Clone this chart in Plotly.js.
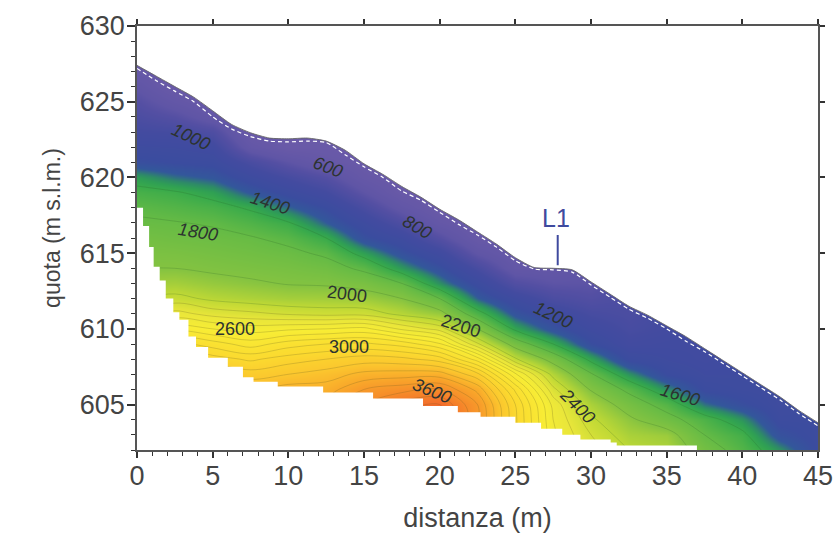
<!DOCTYPE html>
<html><head><meta charset="utf-8">
<script src="https://cdn.plot.ly/plotly-3.0.1.min.js"></script>
<style>html,body{margin:0;padding:0;background:#fff}</style>
</head><body><div id="chart" style="width:833px;height:535px"></div>
<script>
// grid coordinates
const distance = [0,2.5,5,7.5,10,12.5,15,17.5,20,22.5,25,27.5,30,32.5,35,37.5,40,42.5,45];
const elevation = [602,603,604,605,606,607,608,609,610,611,612,613,614,615,616,617,618,619,620,621,622,623,624,625,626,627,628];
const resistivity = [
[3400,3400,3400,3400,3300,3200,3000,2700,2500,2300,2200,2100,2000,1950,1900,1830,1760,1665,1515,1250,1120,1000,900,800,670,520,400],
[3500,3500,3500,3500,3450,3350,3200,2940,2660,2440,2240,2110,2000,1940,1870,1810,1720,1620,1400,1200,1100,980,800,590,420,400,400],
[3550,3550,3550,3500,3400,3250,3050,2850,2600,2360,2175,2060,1970,1910,1850,1780,1670,1530,1330,1165,1050,870,600,430,400,400,400],
[3500,3500,3500,3450,3300,3150,2980,2750,2550,2325,2140,2025,1945,1880,1815,1705,1575,1330,1130,925,600,430,400,400,400,400,400],
[3500,3500,3500,3450,3350,3200,3050,2850,2580,2285,2110,1990,1920,1845,1745,1615,1380,1160,960,720,420,400,400,400,400,400,400],
[3550,3550,3500,3450,3350,3250,3100,2900,2600,2265,2100,1980,1880,1765,1600,1365,1200,1000,800,530,420,400,400,400,400,400,400],
[3700,3700,3650,3600,3500,3330,3150,2920,2630,2265,2085,1935,1760,1530,1265,1120,920,710,520,420,400,400,400,400,400,400,400],
[3900,3900,3850,3750,3560,3350,3130,2860,2480,2165,2000,1800,1500,1285,1100,875,625,440,400,400,400,400,400,400,400,400,400],
[3900,3900,3880,3800,3600,3350,3050,2715,2360,2065,1800,1465,1265,1065,800,560,400,400,400,400,400,400,400,400,400,400,400],
[3520,3520,3520,3500,3370,3130,2750,2320,2000,1680,1360,1160,940,680,480,400,400,400,400,400,400,400,400,400,400,400,400],
[3020,3020,3020,3000,2880,2620,2220,1920,1560,1300,1100,830,600,500,500,500,500,500,500,500,500,500,500,500,500,500,500],
[2520,2520,2500,2470,2330,2160,1930,1600,1300,1100,900,720,600,500,500,500,500,500,500,500,500,500,500,500,500,500,500],
[2350,2300,2230,2130,1985,1820,1550,1240,1080,950,820,720,700,700,700,700,700,700,700,700,700,700,700,700,700,700,700],
[2200,2130,2035,1915,1755,1480,1180,1020,950,900,900,900,900,900,900,900,900,900,900,900,900,900,900,900,900,900,900],
[2150,2080,1875,1720,1465,1200,1100,1050,1000,1000,1000,1000,1000,1000,1000,1000,1000,1000,1000,1000,1000,1000,1000,1000,1000,1000,1000],
[1900,1800,1690,1400,1180,1100,1050,1050,1050,1050,1050,1050,1050,1050,1050,1050,1050,1050,1050,1050,1050,1050,1050,1050,1050,1050,1050],
[1720,1650,1480,1240,1130,1100,1100,1100,1100,1100,1100,1100,1100,1100,1100,1100,1100,1100,1100,1100,1100,1100,1100,1100,1100,1100,1100],
[1480,1280,1150,1100,1100,1100,1100,1100,1100,1100,1100,1100,1100,1100,1100,1100,1100,1100,1100,1100,1100,1100,1100,1100,1100,1100,1100],
[1180,1150,1150,1150,1150,1150,1150,1150,1150,1150,1150,1150,1150,1150,1150,1150,1150,1150,1150,1150,1150,1150,1150,1150,1150,1150,1150]
];
// ground surface
const surfaceX = [0,1.25,2.5,3.75,5,6.25,7.5,8.75,10,11.25,12.5,13.75,15,16.25,17.5,18.75,20,21.25,22.5,23.75,25,26.25,27.5,28.75,30,31.25,32.5,33.75,35,36.25,37.5,38.75,40,41.25,42.5,43.75,45];
const surfaceY = [627.4,626.7,626,625.3,624.4,623.5,622.95,622.6,622.55,622.6,622.4,621.8,620.9,620.2,619.4,618.7,617.9,617.2,616.4,615.6,614.7,614.05,614,613.9,613.1,612.3,611.5,610.9,610.2,609.5,608.7,607.9,607.1,606.3,605.5,604.6,603.8];
const surfaceOffset = [627.2,626.4,625.7,625,624,623.2,622.7,622.4,622.35,622.4,622.3,621.5,620.7,620,619.1,618.5,617.7,616.9,616.2,615.4,614.5,613.95,613.9,613.75,612.9,612.1,611.3,610.7,610,609.2,608.5,607.7,606.9,606.1,605.3,604.4,603.6];
// lower limit of the investigated section (staircase)
const baseX = [0,0.4,0.8,1.1,1.5,1.9,2.4,2.8,3.4,3.9,4.7,6,7,7.7,9.3,12.3,15.6,18.9,21.2,22.7,25,26.7,28.1,29.3,31.3,31.7,37];
const baseY = [618,616.8,615.4,614.1,613.2,612,611.1,610.6,609.5,608.8,608.1,607.5,606.8,606.5,606.2,605.8,605.4,604.9,604.5,604.2,603.8,603.4,603,602.7,602.5,602.3,602];
// contour labels
const labelText = ['600','800','1000','1200','1400','1600','1800','2000','2200','2400','2600','3000','3600'];
const labelX = [12.6,18.5,3.6,27.5,8.8,35.9,4.0,13.9,21.4,29.1,6.5,14.0,19.5];
const labelY = [620.7,616.7,622.7,610.9,618.3,605.6,616.4,612.3,610.2,604.9,610.0,608.8,605.9];
const labelAngle = [20,30,25,25,18,17,9,7,18,45,0,0,22];
const labelStyle = ['italic','italic','italic','italic','italic','italic','italic','normal','normal','italic','normal','normal','italic'];
const levelZ = [400,700,800,1000,1200,1350,1450,1520,1600,1800,2000,2200,2400,2600,3000,3200,3400,3600,3800,3900];
const levelColor = ['#6a5aa8','#5f55a6','#544fa3','#434ba0','#3b4c9f','#33589b','#2e8a68','#2f9f55','#3aab4b','#66bb45','#84c341','#c0d935','#e9e63a','#f8ed35','#fbd92f','#fbc72e','#f9a82a','#f68b2a','#f26b2b','#ee5f2c'];
const zLow = 400, zHigh = 3900;

const tickFont = {family:'"Liberation Sans",Arial,sans-serif',size:27,color:'#444'};
const yTitleFont = {family:'"Liberation Sans",Arial,sans-serif',size:23,color:'#444'};
const traces = [
 {type:'contour',x:distance,y:elevation,z:resistivity,transpose:true,zauto:false,zmin:zLow,zmax:zHigh,
  colorscale:levelZ.map((v,i)=>[(v-zLow)/(zHigh-zLow),levelColor[i]]),showscale:false,hoverinfo:'skip',
  contours:{coloring:'heatmap',start:2300,end:3800,size:100,showlabels:false},
  line:{color:'rgba(90,85,30,0.32)',width:0.7,smoothing:1}},
 {type:'contour',x:distance,y:elevation,z:resistivity,transpose:true,showscale:false,hoverinfo:'skip',
  contours:{coloring:'none',start:1600,end:2200,size:200,showlabels:false},
  line:{color:'rgba(40,90,40,0.3)',width:0.7,smoothing:1}},
 {type:'scatter',mode:'lines',x:[-1].concat(surfaceX,[46,46,-1]),y:[surfaceY[0]+0.5].concat(surfaceY,[603.2,640,640]),fill:'toself',fillcolor:'#fff',line:{width:0,shape:'spline',smoothing:0.6},hoverinfo:'skip'},
 {type:'scatter',mode:'lines',x:baseX.concat([37,-1,-1]),y:baseY.concat([601,601,baseY[0]]),fill:'toself',fillcolor:'#fff',line:{width:0,shape:'hv'},hoverinfo:'skip'},
 {type:'scatter',mode:'lines',x:surfaceX,y:surfaceOffset,line:{color:'#fff',width:1.2,dash:'4px,3px',shape:'spline',smoothing:0.6},hoverinfo:'skip'},
 {type:'scatter',mode:'lines',x:surfaceX,y:surfaceY,line:{color:'#666',width:0.9,shape:'spline',smoothing:0.6},hoverinfo:'skip'},
 {type:'scatter',mode:'lines',xaxis:'x2',yaxis:'y2',x:[27.8,27.8],y:[616.2,614.2],line:{color:'#3f4a9e',width:2},hoverinfo:'skip'}
];
const layout = {
 width:833,height:535,margin:{l:136.5,r:15,t:26,b:84.5},paper_bgcolor:'#fff',plot_bgcolor:'#fff',showlegend:false,
 xaxis:{range:[0,45],tick0:0,dtick:5,ticks:'outside',ticklen:6,tickwidth:1.5,tickcolor:'#333',linecolor:'#555',linewidth:1.5,showgrid:false,zeroline:false,ticklabelstandoff:-5,ticklabeloverflow:'allow',
  minor:{dtick:1,ticks:'outside',ticklen:4,tickwidth:1.3,tickcolor:'#333',showgrid:false},
  tickfont:tickFont,title:{text:'distanza (m)',font:tickFont,standoff:18}},
 yaxis:{range:[602,630],tick0:605,dtick:5,ticks:'outside',ticklen:8,tickwidth:1.5,tickcolor:'#333',linecolor:'#555',linewidth:1.5,showgrid:false,zeroline:false,ticklabelstandoff:-3,ticklabeloverflow:'allow',
  minor:{dtick:1,ticks:'outside',ticklen:4,tickwidth:1.3,tickcolor:'#333',showgrid:false},
  tickfont:tickFont,title:{text:'quota (m s.l.m.)',font:yTitleFont,standoff:13}},
 xaxis2:{overlaying:'x',anchor:'y2',side:'top',range:[0,45],dtick:5,tick0:0,ticks:'outside',ticklen:5,tickwidth:1.5,tickcolor:'#333',linecolor:'#555',linewidth:1.5,showticklabels:false,showgrid:false,zeroline:false},
 yaxis2:{overlaying:'y',anchor:'x2',side:'right',range:[602,630],dtick:5,tick0:605,ticks:'outside',ticklen:5,tickwidth:1.5,tickcolor:'#333',linecolor:'#555',linewidth:1.5,showticklabels:false,showgrid:false,zeroline:false},
 annotations: labelText.map((t,i)=>({x:labelX[i],y:labelY[i],text:t,textangle:labelAngle[i],showarrow:false,
   font:{family:'"Liberation Sans",Arial,sans-serif',size:18,color:'#2c3330',style:labelStyle[i]}})).concat([
   {x:27.7,y:617.3,text:'L1',showarrow:false,font:{family:'"Liberation Sans",Arial,sans-serif',size:25,color:'#3f4a9e'}}
 ])
};
Plotly.newPlot('chart',traces,layout,{displayModeBar:false}).then(()=>{
 const t=document.querySelector('.ytitle');
 if(t) t.setAttribute('transform',(t.getAttribute('transform')||'')+' translate(10,0)');
});
</script></body></html>
